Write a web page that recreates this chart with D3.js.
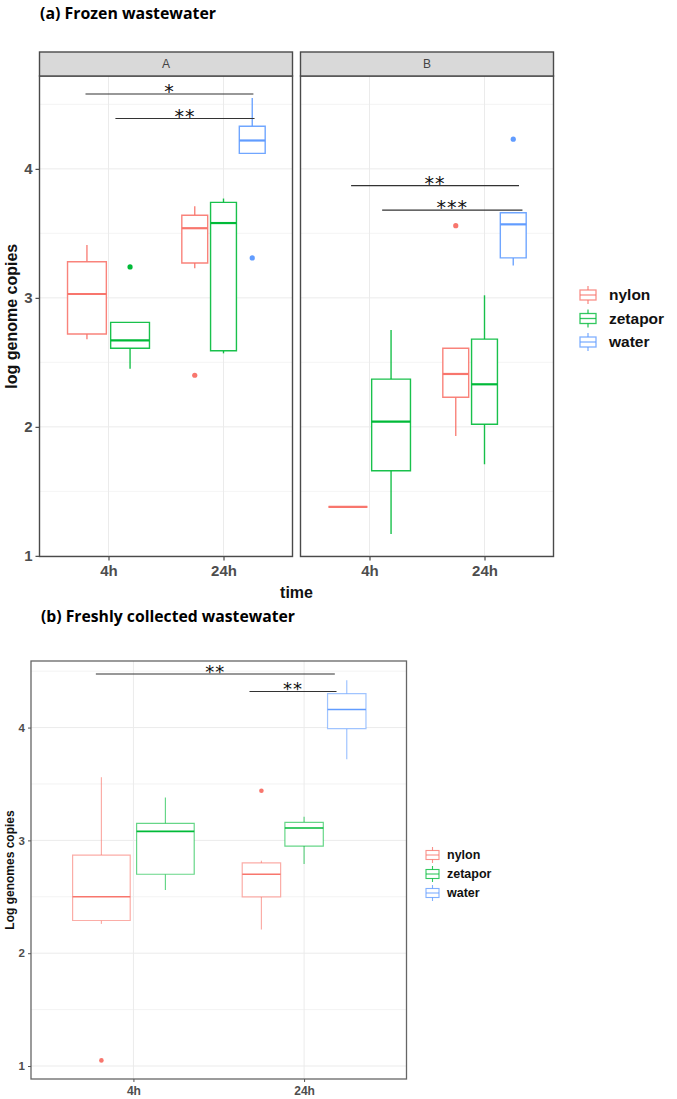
<!DOCTYPE html>
<html><head><meta charset="utf-8">
<script src="https://cdn.jsdelivr.net/npm/d3@7"></script>
<style>body{margin:0;background:#fff} svg{display:block}</style>
</head><body>
<svg id="chart" width="677" height="1099"></svg>
<script>
// ---------- data ----------
const times = ["4h", "24h"];
const groups = ["nylon", "zetapor", "water"];
const groupColors = ["#F8766D", "#00BA38", "#619CFF"];
const facets = ["A", "B"];
const yTicks = [1, 2, 3, 4];
const yMinor = [1.5, 2.5, 3.5, 4.5];

// frozen wastewater boxes: [facet, time, group, lower, q1, median, q3, upper]
const frozenBoxes = [
  ["A", "4h", "nylon", 2.68, 2.72, 3.03, 3.28, 3.41],
  ["A", "4h", "zetapor", 2.45, 2.61, 2.67, 2.81, 2.81],
  ["A", "24h", "nylon", 3.23, 3.27, 3.54, 3.64, 3.71],
  ["A", "24h", "zetapor", 2.57, 2.59, 3.58, 3.74, 3.77],
  ["A", "24h", "water", 4.12, 4.12, 4.22, 4.33, 4.55],
  ["B", "4h", "nylon", 1.38, 1.38, 1.38, 1.38, 1.38],
  ["B", "4h", "zetapor", 1.17, 1.66, 2.04, 2.37, 2.75],
  ["B", "24h", "nylon", 1.93, 2.23, 2.41, 2.61, 2.61],
  ["B", "24h", "zetapor", 1.71, 2.02, 2.33, 2.68, 3.02],
  ["B", "24h", "water", 3.25, 3.31, 3.57, 3.66, 3.66]
];
// outliers: [facet, time, group, value]
const frozenOutliers = [
  ["A", "4h", "zetapor", 3.24],
  ["A", "24h", "nylon", 2.40],
  ["A", "24h", "water", 3.31],
  ["B", "24h", "nylon", 3.56],
  ["B", "24h", "water", 4.23]
];
// significance bars: [facet, start (category index), end (category index), value, label]
const frozenSignif = [
  ["A", -0.20, 1.26, 4.58, "*"],
  ["A", 0.06, 1.27, 4.39, "**"],
  ["B", -0.16, 1.30, 3.87, "**"],
  ["B", 0.11, 1.33, 3.68, "***"]
];

// freshly collected wastewater boxes: [time, group, lower, q1, median, q3, upper]
const freshBoxes = [
  ["4h", "nylon", 2.26, 2.29, 2.50, 2.87, 3.56],
  ["4h", "zetapor", 2.56, 2.70, 3.08, 3.15, 3.38],
  ["24h", "nylon", 2.21, 2.50, 2.70, 2.80, 2.82],
  ["24h", "zetapor", 2.79, 2.95, 3.11, 3.16, 3.21],
  ["24h", "water", 3.72, 3.99, 4.16, 4.30, 4.42]
];
const freshOutliers = [
  ["4h", "nylon", 1.05],
  ["24h", "nylon", 3.44]
];
const freshSignif = [
  [-0.22, 1.18, 4.475, "**"],
  [0.68, 1.19, 4.32, "**"]
];

// ---------- helpers ----------
const svg = d3.select("#chart");
const color = d3.scaleOrdinal().domain(groups).range(groupColors);
const SANS = "'Liberation Sans', Arial, sans-serif";

function dodge(rows, time, group) {
  const present = groups.filter(gr => rows.some(r => r.time === time && r.group === gr));
  const n = present.length, slot = 0.75 / n, k = present.indexOf(group);
  return { c: times.indexOf(time) + (k - (n - 1) / 2) * slot, w: slot * 0.9 };
}

function drawGrid(g, x, y, x0, x1, y0, y1, majW, minW) {
  g.selectAll(".gmin").data(yMinor.filter(v => y(v) > y0 && y(v) < y1)).join("line")
    .attr("x1", x0).attr("x2", x1).attr("y1", d => y(d)).attr("y2", d => y(d))
    .attr("stroke", "#EFEFEF").attr("stroke-width", minW);
  g.selectAll(".gmaj").data(yTicks.filter(v => y(v) >= y0 && y(v) <= y1)).join("line")
    .attr("x1", x0).attr("x2", x1).attr("y1", d => y(d)).attr("y2", d => y(d))
    .attr("stroke", "#EBEBEB").attr("stroke-width", majW);
  g.selectAll(".gx").data(times).join("line")
    .attr("x1", (d, i) => x(i)).attr("x2", (d, i) => x(i)).attr("y1", y0).attr("y2", y1)
    .attr("stroke", "#EBEBEB").attr("stroke-width", majW);
}

function drawBoxes(g, rows, outl, x, y, st) {
  rows.forEach(r => {
    const p = dodge(rows, r.time, r.group);
    const cx = x(p.c), xl = x(p.c - p.w / 2), xr = x(p.c + p.w / 2);
    const col = color(r.group);
    const bg = g.append("g");
    bg.append("line").attr("x1", cx).attr("x2", cx).attr("y1", y(r.q3)).attr("y2", y(r.upper))
      .attr("stroke", col).attr("stroke-width", st.lw).attr("stroke-opacity", st.op);
    bg.append("line").attr("x1", cx).attr("x2", cx).attr("y1", y(r.q1)).attr("y2", y(r.lower))
      .attr("stroke", col).attr("stroke-width", st.lw).attr("stroke-opacity", st.op);
    bg.append("path")
      .attr("d", `M${xl},${y(r.q3)}H${xr}V${y(r.q1)}H${xl}Z`)
      .attr("fill", "white").attr("stroke", col).attr("stroke-width", st.lw).attr("stroke-opacity", st.op);
    bg.append("line").attr("x1", xl).attr("x2", xr).attr("y1", y(r.median)).attr("y2", y(r.median))
      .attr("stroke", col).attr("stroke-width", st.mw);
  });
  outl.forEach(o => {
    const p = dodge(rows, o.time, o.group);
    g.append("circle").attr("cx", x(p.c)).attr("cy", y(o.value)).attr("r", st.pr)
      .attr("fill", color(o.group));
  });
}

function drawSignif(g, sig, x, y, fs) {
  sig.forEach(s => {
    g.append("line").attr("x1", x(s.start)).attr("x2", x(s.end)).attr("y1", y(s.value)).attr("y2", y(s.value))
      .attr("stroke", "#333").attr("stroke-width", 1.1);
    g.append("text").attr("x", (x(s.start) + x(s.end)) / 2).attr("y", y(s.value) + fs * 0.22)
      .attr("text-anchor", "middle").attr("font-family", "'DejaVu Sans', sans-serif")
      .attr("font-size", fs).attr("letter-spacing", 1).attr("fill", "#111").text(s.label);
  });
}

function legend(g, lx, ly, step, iw, bh, wh, fs, tx, lw) {
  groups.forEach((gr, i) => {
    const cy = ly + i * step, col = color(gr);
    g.append("line").attr("x1", lx + iw / 2).attr("x2", lx + iw / 2).attr("y1", cy - bh / 2 - wh).attr("y2", cy + bh / 2 + wh)
      .attr("stroke", col).attr("stroke-width", lw).attr("stroke-opacity", 0.8);
    g.append("rect").attr("x", lx).attr("y", cy - bh / 2).attr("width", iw).attr("height", bh)
      .attr("fill", "white").attr("stroke", col).attr("stroke-width", lw).attr("stroke-opacity", 0.8);
    g.append("line").attr("x1", lx).attr("x2", lx + iw).attr("y1", cy).attr("y2", cy)
      .attr("stroke", col).attr("stroke-width", lw).attr("stroke-opacity", 0.8);
    g.append("text").attr("x", tx).attr("y", cy).attr("dy", "0.35em")
      .attr("font-family", SANS).attr("font-weight", "bold").attr("font-size", fs)
      .attr("fill", "#111").text(gr);
  });
}

// ---------- (a) Frozen wastewater ----------
svg.append("text").attr("x", 40).attr("y", 18.5).attr("font-family", "'Open Sans', sans-serif")
  .attr("font-weight", "bold").attr("font-size", 15.5).attr("fill", "#000")
  .attr("textLength", 176).attr("lengthAdjust", "spacingAndGlyphs").text("(a) Frozen wastewater");

const aTop = 76, aBot = 556.5, stripTop = 52;
const panelX = { A: [39.5, 292.5], B: [300.5, 553.5] };
const yA = d3.scaleLinear().domain([0.995, 4.72]).range([aBot, aTop]);

const fb = frozenBoxes.map(d => ({ facet: d[0], time: d[1], group: d[2], lower: d[3], q1: d[4], median: d[5], q3: d[6], upper: d[7] }));
const fo = frozenOutliers.map(d => ({ facet: d[0], time: d[1], group: d[2], value: d[3] }));
const fs = frozenSignif.map(d => ({ facet: d[0], start: d[1], end: d[2], value: d[3], label: d[4] }));

facets.forEach(f => {
  const [x0, x1] = panelX[f];
  const x = d3.scaleLinear().domain([-0.6, 1.6]).range([x0, x1]);
  const g = svg.append("g");
  drawGrid(g, x, yA, x0, x1, aTop, aBot, 1, 0.7);
  drawBoxes(g, fb.filter(d => d.facet === f), fo.filter(d => d.facet === f), x, yA, { lw: 1.4, mw: 2.2, op: 0.9, pr: 2.6 });
  drawSignif(g, fs.filter(d => d.facet === f), x, yA, 19);
  // panel border
  g.append("rect").attr("x", x0).attr("y", aTop).attr("width", x1 - x0).attr("height", aBot - aTop)
    .attr("fill", "none").attr("stroke", "#4a4a4a").attr("stroke-width", 1.4);
  // strip
  g.append("rect").attr("x", x0).attr("y", stripTop).attr("width", x1 - x0).attr("height", aTop - stripTop)
    .attr("fill", "#D9D9D9").attr("stroke", "#4a4a4a").attr("stroke-width", 1.4);
  g.append("text").attr("x", (x0 + x1) / 2).attr("y", (stripTop + aTop) / 2).attr("dy", "0.36em")
    .attr("text-anchor", "middle").attr("font-family", SANS).attr("font-size", 12).attr("fill", "#444").text(f);
  // x axis
  const xa = g.append("g").attr("transform", `translate(0,${aBot})`)
    .call(d3.axisBottom(x).tickValues([0, 1]).tickFormat(i => times[i]).tickSize(4).tickPadding(5));
  xa.select(".domain").remove();
  xa.selectAll("line").attr("stroke", "#4a4a4a").attr("stroke-width", 1.2);
  xa.selectAll("text").attr("font-family", SANS).attr("font-weight", "bold").attr("font-size", 15).attr("fill", "#4D4D4D");
  if (f === "A") {
    const ya = g.append("g").attr("transform", `translate(${x0},0)`)
      .call(d3.axisLeft(yA).tickValues(yTicks).tickFormat(d3.format("d")).tickSize(4).tickPadding(3));
    ya.select(".domain").remove();
    ya.selectAll("line").attr("stroke", "#4a4a4a").attr("stroke-width", 1.2);
    ya.selectAll("text").attr("font-family", SANS).attr("font-weight", "bold").attr("font-size", 15).attr("fill", "#4D4D4D");
  }
});

svg.append("text").attr("transform", `translate(17,${(aTop + aBot) / 2}) rotate(-90)`)
  .attr("text-anchor", "middle").attr("font-family", SANS).attr("font-weight", "bold")
  .attr("font-size", 16).attr("fill", "#111").text("log genome copies");
svg.append("text").attr("x", 296.5).attr("y", 598).attr("text-anchor", "middle")
  .attr("font-family", SANS).attr("font-weight", "bold").attr("font-size", 16).attr("fill", "#111").text("time");

legend(svg.append("g"), 580, 295, 23.5, 16, 10, 4, 15.5, 609, 1.3);

// ---------- (b) Freshly collected wastewater ----------
svg.append("text").attr("x", 41).attr("y", 621.5).attr("font-family", "'Open Sans', sans-serif")
  .attr("font-weight", "bold").attr("font-size", 15.5).attr("fill", "#000")
  .attr("textLength", 254).attr("lengthAdjust", "spacingAndGlyphs").text("(b) Freshly collected wastewater");

const bx0 = 31, bx1 = 406.5, bTop = 661, bBot = 1079;
const xB = d3.scaleLinear().domain([-0.6, 1.6]).range([bx0, bx1]);
const yB = d3.scaleLinear().domain([0.885, 4.59]).range([bBot, bTop]);
const rb = freshBoxes.map(d => ({ time: d[0], group: d[1], lower: d[2], q1: d[3], median: d[4], q3: d[5], upper: d[6] }));
const ro = freshOutliers.map(d => ({ time: d[0], group: d[1], value: d[2] }));
const rs = freshSignif.map(d => ({ start: d[0], end: d[1], value: d[2], label: d[3] }));

const gb = svg.append("g");
drawGrid(gb, xB, yB, bx0, bx1, bTop, bBot, 1, 0.8);
drawBoxes(gb, rb, ro, xB, yB, { lw: 1.2, mw: 1.6, op: 0.6, pr: 2.3 });
drawSignif(gb, rs, xB, yB, 18);
gb.append("rect").attr("x", bx0).attr("y", bTop).attr("width", bx1 - bx0).attr("height", bBot - bTop)
  .attr("fill", "none").attr("stroke", "#666").attr("stroke-width", 1.3);
const xab = gb.append("g").attr("transform", `translate(0,${bBot})`)
  .call(d3.axisBottom(xB).tickValues([0, 1]).tickFormat(i => times[i]).tickSize(3).tickPadding(4));
xab.select(".domain").remove();
xab.selectAll("line").attr("stroke", "#555");
xab.selectAll("text").attr("font-family", SANS).attr("font-weight", "bold").attr("font-size", 12).attr("fill", "#4D4D4D");
const yab = gb.append("g").attr("transform", `translate(${bx0},0)`)
  .call(d3.axisLeft(yB).tickValues(yTicks).tickFormat(d3.format("d")).tickSize(3).tickPadding(3));
yab.select(".domain").remove();
yab.selectAll("line").attr("stroke", "#555");
yab.selectAll("text").attr("font-family", SANS).attr("font-weight", "bold").attr("font-size", 11.5).attr("fill", "#4D4D4D");

svg.append("text").attr("transform", `translate(14,${(bTop + bBot) / 2}) rotate(-90)`)
  .attr("text-anchor", "middle").attr("font-family", SANS).attr("font-weight", "bold")
  .attr("font-size", 12).attr("fill", "#111").text("Log genomes copies");

legend(svg.append("g"), 426, 855, 19, 13, 9, 3.5, 12.5, 447, 1.1);
</script>
</body></html>
